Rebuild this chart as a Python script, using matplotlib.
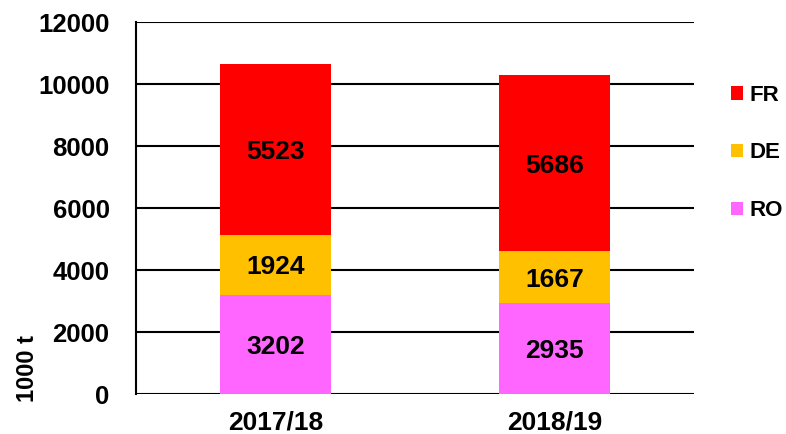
import numpy as np
import matplotlib.pyplot as plt

plt.rcParams['font.family'] = ['Liberation Sans', 'DejaVu Sans']
plt.rcParams['font.weight'] = 'bold'

jahre = ["2017/18", "2018/19"]
ro = [3202, 2935]
de = [1924, 1667]
fr = [5523, 5686]

farben = {"RO": "#FF66FF", "DE": "#FFC000", "FR": "#FF0000"}

fig = plt.figure(figsize=(7.86, 4.34), dpi=100)
ax = fig.add_axes([136/786, 40/434, 558/786, 372/434])

x = np.arange(len(jahre))
unten = np.zeros(len(jahre))
balken = {}
for name, werte in [("RO", ro), ("DE", de), ("FR", fr)]:
    b = ax.bar(x, werte, 0.4, bottom=unten, color=farben[name], label=name, zorder=3)
    balken[name] = b
    for xi, u, w in zip(x, unten, werte):
        ax.text(xi, u + w/2, str(w), ha='center', va='center_baseline', fontsize=19,
                fontweight='bold', zorder=4)
    unten = unten + np.array(werte)

ax.set_xlim(-0.5, 1.5)
ax.set_ylim(0, 12000)
ax.set_yticks(range(0, 12001, 2000))
ax.set_xticks(x)
ax.set_xticklabels(jahre, fontsize=19, fontweight='bold')
ax.tick_params(axis='y', length=0, pad=19, labelsize=18.5)
ax.tick_params(axis='x', length=0, pad=12)
ax.grid(axis='y', color='black', linewidth=1.5, zorder=1)
for s in ['top', 'right', 'bottom']:
    ax.spines[s].set_visible(False)
ax.spines['left'].set_linewidth(1.5)
fig.text(27/786, 1 - 368/434, "1000 t", rotation=90, ha='center', va='center',
         fontsize=17, fontweight='bold')

handles = [balken["FR"], balken["DE"], balken["RO"]]
ax.legend(handles, ["FR", "DE", "RO"], loc='upper left', bbox_to_anchor=(1.03, 0.885),
          frameon=False, fontsize=16, handlelength=0.55, handleheight=0.55,
          handletextpad=0.3, labelspacing=1.65)

fig.savefig("out.png", dpi=100)
